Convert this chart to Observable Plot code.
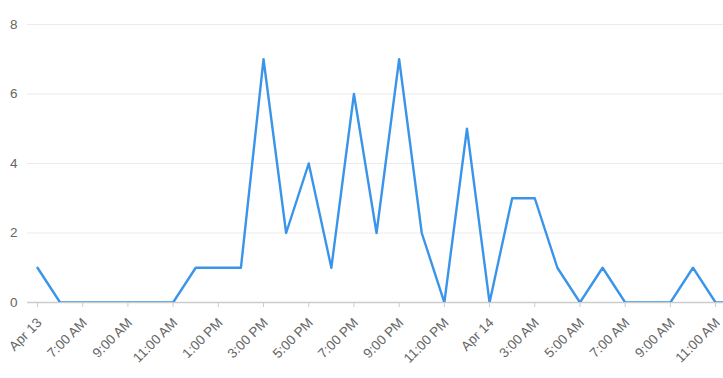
<!DOCTYPE html>
<html>
<head>
<meta charset="utf-8">
<script src="https://cdn.jsdelivr.net/npm/d3@7"></script>
<script src="https://cdn.jsdelivr.net/npm/@observablehq/plot@0.6"></script>
<style>
  html, body { margin: 0; padding: 0; background: #fff; }
  #chart svg { display: block; }
</style>
</head>
<body>
<div id="chart"></div>
<script>
// Hourly counts from Apr 13 5:00 AM to Apr 14 12:00 PM
const values = [1,0,0,0,0,0,0,1,1,1,7,2,4,1,6,2,7,2,0,5,0,3,3,1,0,1,0,0,0,1,0,0];
const tickLabels = ["Apr 13","7:00 AM","9:00 AM","11:00 AM","1:00 PM","3:00 PM","5:00 PM","7:00 PM","9:00 PM","11:00 PM","Apr 14","3:00 AM","5:00 AM","7:00 AM","9:00 AM","11:00 AM"];
const yTicks = [0, 2, 4, 6, 8];

const data = values.map((v, i) => ({i, v}));
const xTicks = d3.range(0, 31, 2);

const chart = Plot.plot({
  width: 723,
  height: 378,
  marginLeft: 27,
  marginRight: 0,
  marginTop: 24,
  marginBottom: 76,
  style: {fontFamily: "Liberation Sans, Arial, sans-serif", fontSize: "13.5px", color: "#666", background: "#fff"},
  x: {domain: [0, 30.35], insetLeft: 10},
  y: {domain: [0, 8]},
  marks: [
    Plot.gridY(yTicks, {stroke: "#ebebeb", strokeOpacity: 1}),
    Plot.axisY(yTicks, {tickSize: 0, tickPadding: 10, fill: "#666", fontSize: 13.5, label: null}),
    Plot.ruleY([0], {stroke: "#ccc", strokeWidth: 1.5}),
    Plot.axisX(xTicks, {tickFormat: () => "", tickSize: 5, stroke: "#ccc", label: null}),
    Plot.axisX(xTicks, {
      tickFormat: d => tickLabels[d / 2],
      tickRotate: -45,
      tickSize: 0,
      tickPadding: 14,
      fontSize: 13.5,
      dx: 2,
      dy: 4,
      fill: "#666",
      label: null
    }),
    Plot.line(data, {x: "i", y: "v", stroke: "#3a95ea", strokeWidth: 2.4, clip: true})
  ]
});
document.getElementById("chart").appendChild(chart);
</script>
</body>
</html>
